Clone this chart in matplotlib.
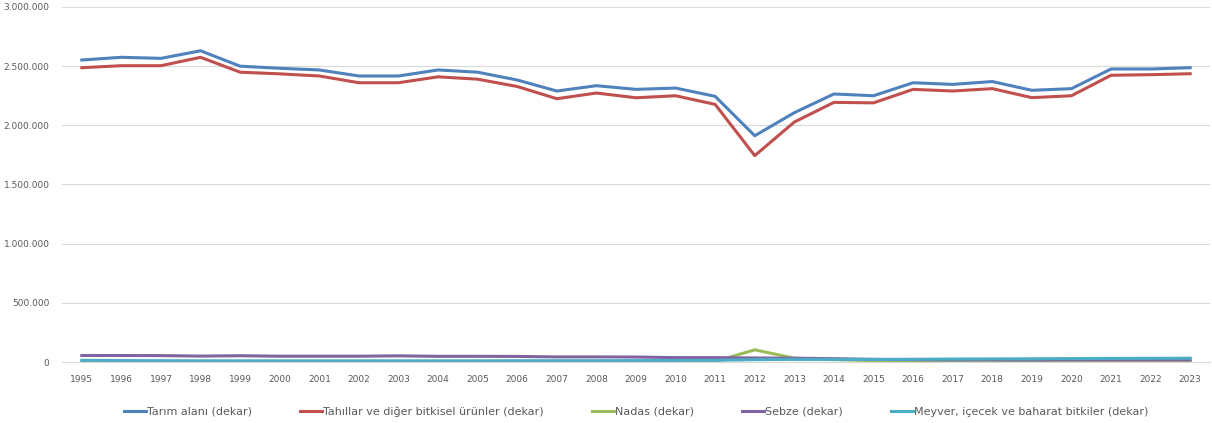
import numpy as np
import matplotlib.pyplot as plt
from matplotlib.ticker import FuncFormatter, MultipleLocator

# Data
years = list(range(1995, 2024))

tarim = [2552000, 2575000, 2566000, 2630000, 2500000, 2482000, 2468000, 2417000, 2417000, 2468000,
         2449000, 2383000, 2290000, 2335000, 2304000, 2315000, 2245000, 1912000, 2107000, 2265000,
         2250000, 2360000, 2346000, 2370000, 2296000, 2310000, 2476000, 2476000, 2487000]
tahil = [2487000, 2504000, 2504000, 2575000, 2449000, 2435000, 2417000, 2360000, 2360000, 2410000,
         2390000, 2328000, 2225000, 2273000, 2233000, 2250000, 2177000, 1744000, 2028000, 2194000,
         2190000, 2304000, 2290000, 2310000, 2234000, 2250000, 2423000, 2428000, 2436000]
nadas = [0, 0, 0, 0, 0, 0, 0, 0, 0, 0,
         0, 0, 0, 0, 0, 0, 5000, 103000, 32000, 20000,
         12000, 10000, 9000, 8000, 7000, 6000, 5000, 5000, 5000]
sebze = [55000, 55000, 54000, 50000, 53000, 49000, 49000, 49000, 52000, 48000,
         48000, 47000, 43000, 43000, 42000, 37000, 37000, 34000, 32000, 28000,
         22000, 19000, 18000, 18000, 17000, 18000, 18000, 18000, 18000]
meyve = [14000, 12000, 11000, 10000, 10000, 10000, 10000, 10000, 10000, 10000,
         10000, 11000, 11000, 11000, 12000, 13000, 14000, 20000, 22000, 22000,
         22000, 23000, 25000, 26000, 27000, 29000, 30000, 31000, 32000]

labels = ['Tarım alanı (dekar)', 'Tahıllar ve diğer bitkisel ürünler (dekar)',
          'Nadas (dekar)', 'Sebze (dekar)', 'Meyver, içecek ve baharat bitkiler (dekar)']
colors = ['#4F81BD', '#C0504D', '#9BBB59', '#8064A2', '#4BACC6']

fig = plt.figure(figsize=(12.12, 4.23), dpi=100)
ax = fig.add_axes([62 / 1212, 1 - 362 / 423, 1148 / 1212, 355 / 423])

x = np.arange(len(years))
for series, lab, col in zip([tarim, tahil, nadas, sebze, meyve], labels, colors):
    ax.plot(x, series, color=col, lw=2.2, label=lab, solid_joinstyle='round')

ax.set_xlim(-0.5, len(years) - 0.5)
ax.set_ylim(0, 3000000)
ax.yaxis.set_major_locator(MultipleLocator(500000))
ax.yaxis.set_major_formatter(FuncFormatter(lambda v, p: f'{int(v):,}'.replace(',', '.')))
ax.set_xticks(x)
ax.set_xticklabels([str(y) for y in years])

ax.grid(axis='y', color='#d9d9d9', lw=0.8)
ax.set_axisbelow(True)
for s in ['top', 'right', 'left']:
    ax.spines[s].set_visible(False)
ax.spines['bottom'].set_color('#d9d9d9')
ax.tick_params(axis='both', length=0, labelsize=6.5, labelcolor='#595959')
ax.tick_params(axis='x', pad=9)
ax.tick_params(axis='y', pad=9)

ax.legend(loc='center', bbox_to_anchor=(0.5, -0.14), ncol=5, frameon=False,
          fontsize=8, labelcolor='#595959', handlelength=2.0, handletextpad=0.1,
          columnspacing=4.3)

plt.savefig('out.png', dpi=100)
plt.close()
